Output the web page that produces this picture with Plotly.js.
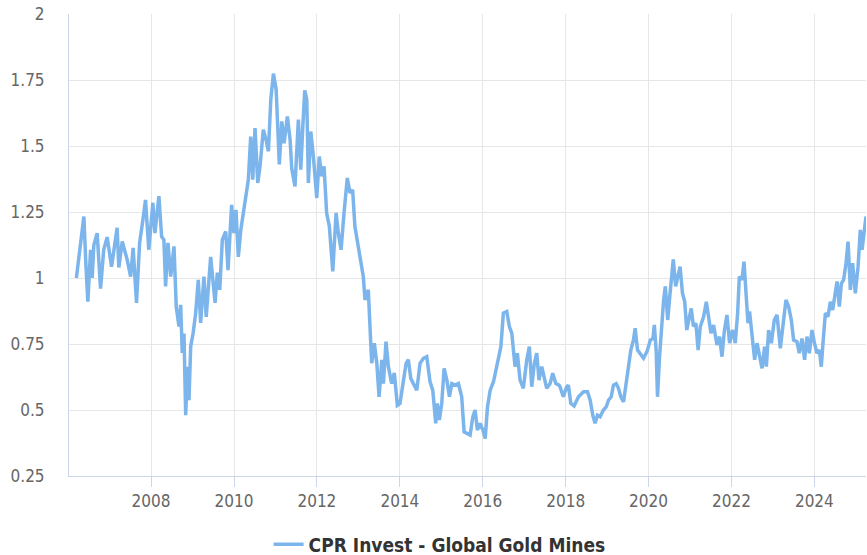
<!DOCTYPE html>
<html>
<head>
<meta charset="utf-8">
<script src="https://cdn.plot.ly/plotly-3.0.1.min.js"></script>
<style>
html,body{margin:0;padding:0;background:#fff;}
#chart{width:867px;height:555px;}
</style>
</head>
<body>
<div id="chart"></div>
<script>
var seriesName = "CPR Invest - Global Gold Mines";

var dates = [
"2006-03-14","2006-03-28","2006-04-14","2006-05-02","2006-05-19","2006-06-06","2006-06-23","2006-07-17","2006-07-31","2006-08-15",
"2006-09-13","2006-10-13","2006-11-10","2006-12-10","2007-01-18","2007-03-08","2007-03-23","2007-04-22","2007-06-05","2007-07-05",
"2007-07-27","2007-08-26","2007-09-22","2007-10-21","2007-11-13","2007-12-12","2008-01-17","2008-02-04","2008-03-10","2008-04-03",
"2008-04-23","2008-05-08","2008-05-29","2008-06-22","2008-07-21","2008-08-10","2008-09-03","2008-09-18","2008-10-02","2008-10-17",
"2008-11-01","2008-11-18","2008-11-30","2008-12-15","2009-01-05","2009-01-28","2009-02-20","2009-03-13","2009-04-11","2009-05-01",
"2009-06-09","2009-07-18","2009-08-07","2009-08-28","2009-09-20","2009-10-20","2009-11-09","2009-12-11","2009-12-31","2010-01-18",
"2010-02-08","2010-03-01","2010-03-24","2010-04-17","2010-05-07","2010-05-28","2010-06-15","2010-07-05","2010-07-29","2010-08-18",
"2010-09-16","2010-10-10","2010-10-31","2010-11-21","2010-12-14","2011-01-07","2011-02-04","2011-02-26","2011-03-18","2011-04-16",
"2011-05-10","2011-05-24","2011-06-22","2011-07-22","2011-08-12","2011-08-30","2011-09-16","2011-10-04","2011-10-18","2011-11-08",
"2011-12-01","2011-12-31","2012-01-22","2012-02-12","2012-03-04","2012-03-27","2012-04-20","2012-05-20","2012-06-18","2012-07-08",
"2012-08-01","2012-08-27","2012-09-25","2012-10-19","2012-11-11","2012-12-01","2012-12-31","2013-01-24","2013-02-13","2013-02-28",
"2013-03-29","2013-04-19","2013-04-28","2013-05-21","2013-06-12","2013-07-02","2013-07-26","2013-08-09","2013-09-01","2013-09-22",
"2013-10-21","2013-11-13","2013-12-10","2014-01-02","2014-01-31","2014-02-25","2014-03-17","2014-04-07","2014-04-30","2014-05-30",
"2014-06-28","2014-07-28","2014-08-26","2014-09-24","2014-10-18","2014-10-29","2014-11-13","2014-11-27","2014-12-15","2015-01-05",
"2015-01-26","2015-02-19","2015-03-14","2015-04-04","2015-05-03","2015-06-01","2015-06-30","2015-07-21","2015-08-14","2015-09-12",
"2015-10-06","2015-10-26","2015-11-15","2015-12-09","2016-01-03","2016-01-23","2016-02-12","2016-03-07","2016-04-05","2016-04-29",
"2016-05-19","2016-06-09","2016-07-01","2016-07-31","2016-08-23","2016-09-13","2016-10-12","2016-11-01","2016-11-25","2016-12-24",
"2017-01-23","2017-02-15","2017-03-08","2017-03-31","2017-04-21","2017-05-11","2017-06-04","2017-06-27","2017-07-18","2017-08-17",
"2017-09-09","2017-10-06","2017-11-04","2017-11-12","2017-12-02","2017-12-11","2018-01-10","2018-01-25","2018-02-15","2018-03-16",
"2018-04-24","2018-06-07","2018-07-12","2018-08-05","2018-08-28","2018-09-17","2018-10-08","2018-10-31","2018-11-30","2018-12-24",
"2019-01-13","2019-02-06","2019-02-26","2019-03-22","2019-04-11","2019-05-02","2019-05-26","2019-06-18","2019-07-08","2019-07-29",
"2019-08-21","2019-09-05","2019-09-26","2019-10-20","2019-11-18","2019-12-18","2020-01-17","2020-02-09","2020-02-21","2020-03-08",
"2020-03-20","2020-04-07","2020-04-22","2020-05-13","2020-05-28","2020-06-18","2020-07-06","2020-07-19","2020-08-06","2020-08-27",
"2020-09-17","2020-10-05","2020-10-26","2020-11-15","2020-12-03","2020-12-24","2021-01-11","2021-01-31","2021-02-21","2021-03-13",
"2021-04-01","2021-04-30","2021-05-24","2021-06-13","2021-07-04","2021-07-27","2021-08-26","2021-09-18","2021-10-09","2021-10-30",
"2021-11-22","2021-12-15","2022-01-11","2022-02-03","2022-02-24","2022-03-11","2022-04-03","2022-04-21","2022-05-09","2022-05-26",
"2022-06-09","2022-07-01","2022-07-24","2022-08-14","2022-09-03","2022-09-27","2022-10-20","2022-11-04","2022-11-24","2022-12-18",
"2023-01-13","2023-02-06","2023-03-07","2023-04-05","2023-04-26","2023-05-19","2023-06-12","2023-07-02","2023-08-01","2023-08-21",
"2023-09-14","2023-10-07","2023-10-28","2023-11-18","2023-12-11","2024-01-02","2024-01-24","2024-02-14","2024-03-02","2024-03-17",
"2024-04-07","2024-04-30","2024-05-21","2024-06-10","2024-07-04","2024-07-19","2024-08-08","2024-08-26","2024-09-15","2024-10-06",
"2024-10-24","2024-11-13","2024-12-03","2024-12-27","2025-01-20","2025-02-09","2025-02-24","2025-03-14","2025-03-31"
];

var values = [
1.00,1.05,1.12,1.20,1.233,1.05,0.91,1.107,1.00,1.125,
1.17,0.96,1.107,1.155,1.043,1.19,1.04,1.138,1.069,1.005,
1.114,0.906,1.133,1.22,1.296,1.107,1.285,1.17,1.31,1.157,
1.145,0.968,1.133,1.005,1.12,0.89,0.816,0.898,0.716,0.79,
0.48,0.664,0.537,0.74,0.79,0.867,0.993,0.83,1.005,0.853,
1.08,0.906,1.02,0.955,1.145,1.176,1.03,1.277,1.17,1.258,
1.08,1.18,1.246,1.334,1.372,1.536,1.372,1.568,1.36,1.423,
1.562,1.524,1.48,1.676,1.774,1.714,1.43,1.593,1.51,1.612,
1.524,1.416,1.347,1.6,1.41,1.574,1.711,1.676,1.36,1.555,
1.46,1.303,1.46,1.385,1.423,1.246,1.195,1.025,1.246,1.17,
1.107,1.246,1.379,1.322,1.334,1.195,1.12,1.06,1.005,0.917,
0.955,0.76,0.677,0.753,0.677,0.55,0.69,0.6,0.759,0.664,
0.6,0.64,0.518,0.525,0.6,0.677,0.69,0.62,0.6,0.575,
0.677,0.696,0.702,0.607,0.575,0.512,0.449,0.525,0.462,0.525,
0.658,0.613,0.55,0.6,0.594,0.6,0.55,0.417,0.411,0.405,
0.474,0.5,0.424,0.449,0.424,0.392,0.512,0.575,0.607,0.651,
0.702,0.74,0.867,0.873,0.816,0.791,0.664,0.715,0.613,0.582,
0.69,0.74,0.588,0.677,0.715,0.613,0.664,0.613,0.582,0.6,
0.639,0.6,0.594,0.588,0.563,0.55,0.588,0.594,0.525,0.515,
0.55,0.569,0.569,0.537,0.48,0.45,0.48,0.474,0.5,0.512,
0.537,0.55,0.594,0.6,0.582,0.55,0.531,0.6,0.664,0.727,
0.765,0.81,0.727,0.715,0.696,0.721,0.765,0.771,0.822,0.727,
0.55,0.702,0.816,0.917,0.968,0.841,0.93,0.993,1.07,0.968,
1.017,1.043,0.942,0.91,0.803,0.853,0.885,0.816,0.829,0.727,
0.816,0.853,0.91,0.853,0.791,0.822,0.746,0.778,0.702,0.80,
0.86,0.753,0.803,0.753,0.867,1.005,0.993,1.062,0.942,0.829,
0.873,0.791,0.69,0.753,0.715,0.658,0.74,0.664,0.803,0.753,
0.841,0.86,0.734,0.853,0.917,0.892,0.841,0.765,0.759,0.715,
0.771,0.69,0.778,0.715,0.803,0.753,0.715,0.727,0.664,0.753,
0.867,0.853,0.91,0.879,0.955,0.987,0.892,0.98,0.993,1.056,
1.138,0.955,1.056,0.942,1.043,1.182,1.107,1.182,1.233
];

var yTickValues = [0.25,0.5,0.75,1,1.25,1.5,1.75,2];
var yTickLabels = ["0.25","0.5","0.75","1","1.25","1.5","1.75","2"];
var xTickValues = ["2008-01-01","2010-01-01","2012-01-01","2014-01-01","2016-01-01","2018-01-01","2020-01-01","2022-01-01","2024-01-01"];
var xTickLabels = ["2008","2010","2012","2014","2016","2018","2020","2022","2024"];

var tickFont = {family: "DejaVu Sans Condensed, DejaVu Sans, sans-serif", size: 17, color: "#666666"};

var trace = {
  x: dates,
  y: values,
  type: "scatter",
  mode: "lines",
  name: seriesName,
  line: {color: "#7cb5ec", width: 3.5},
  hoverinfo: "x+y"
};

var layout = {
  width: 867,
  height: 555,
  margin: {l: 69, r: 1, t: 14, b: 79, autoexpand: false},
  paper_bgcolor: "#ffffff",
  plot_bgcolor: "#ffffff",
  font: tickFont,
  showlegend: true,
  legend: {
    orientation: "h",
    x: 0.465, xanchor: "center",
    y: -0.148, yanchor: "middle",
    font: {family: "DejaVu Sans Condensed, DejaVu Sans, sans-serif", size: 19, color: "#333333", weight: "bold"},
    bgcolor: "rgba(0,0,0,0)"
  },
  xaxis: {
    type: "date",
    range: ["2006-01-08", "2025-03-31"],
    tickmode: "array",
    tickvals: xTickValues,
    ticktext: xTickLabels,
    showgrid: true,
    gridcolor: "#e6e6e6",
    gridwidth: 1,
    zeroline: false,
    showline: true,
    linecolor: "#ccd6eb",
    linewidth: 1,
    ticks: "outside",
    ticklen: 10,
    tickcolor: "#ccd6eb",
    ticklabelstandoff: 0,
    automargin: false,
    tickfont: tickFont
  },
  yaxis: {
    range: [0.25, 2],
    tickmode: "array",
    tickvals: yTickValues,
    ticktext: yTickLabels,
    showgrid: true,
    gridcolor: "#e6e6e6",
    gridwidth: 1,
    zeroline: false,
    showline: true,
    linecolor: "#ccd6eb",
    linewidth: 1,
    ticks: "outside",
    ticklen: 20,
    tickcolor: "rgba(0,0,0,0)",
    automargin: false,
    tickfont: tickFont
  }
};

Plotly.newPlot("chart", [trace], layout, {displayModeBar: false, staticPlot: true});
</script>
</body>
</html>
